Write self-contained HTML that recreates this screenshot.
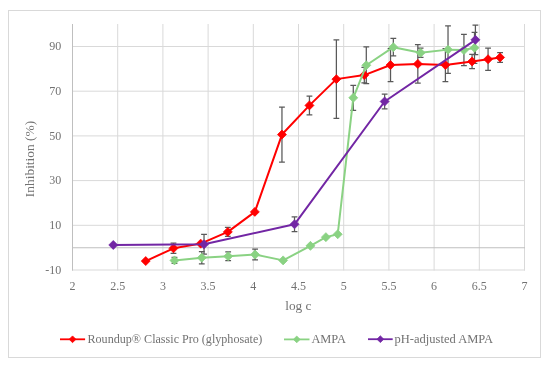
<!DOCTYPE html>
<html><head><meta charset="utf-8"><style>
html,body{margin:0;padding:0;background:#fff;}
body{width:550px;height:367px;overflow:hidden;}
svg{display:block;will-change:transform;}
.t{font-family:"Liberation Serif",serif;font-size:12px;fill:#727272;}
</style></head><body>
<svg width="550" height="367" viewBox="0 0 550 367">
<rect x="8.5" y="10.5" width="532" height="347" fill="#fff" stroke="#d9d9d9" stroke-width="1"/>
<line x1="72" x2="525" y1="46.50" y2="46.50" stroke="#d9d9d9" stroke-width="1"/>
<line x1="72" x2="525" y1="91.20" y2="91.20" stroke="#d9d9d9" stroke-width="1"/>
<line x1="72" x2="525" y1="135.90" y2="135.90" stroke="#d9d9d9" stroke-width="1"/>
<line x1="72" x2="525" y1="180.60" y2="180.60" stroke="#d9d9d9" stroke-width="1"/>
<line x1="72" x2="525" y1="225.30" y2="225.30" stroke="#d9d9d9" stroke-width="1"/>
<line x1="72" x2="525" y1="270.00" y2="270.00" stroke="#d9d9d9" stroke-width="1"/>
<line x1="72.50" x2="72.50" y1="24" y2="270.50" stroke="#d9d9d9" stroke-width="1"/>
<line x1="117.70" x2="117.70" y1="24" y2="270.50" stroke="#d9d9d9" stroke-width="1"/>
<line x1="162.90" x2="162.90" y1="24" y2="270.50" stroke="#d9d9d9" stroke-width="1"/>
<line x1="208.10" x2="208.10" y1="24" y2="270.50" stroke="#d9d9d9" stroke-width="1"/>
<line x1="253.30" x2="253.30" y1="24" y2="270.50" stroke="#d9d9d9" stroke-width="1"/>
<line x1="298.50" x2="298.50" y1="24" y2="270.50" stroke="#d9d9d9" stroke-width="1"/>
<line x1="343.70" x2="343.70" y1="24" y2="270.50" stroke="#d9d9d9" stroke-width="1"/>
<line x1="388.90" x2="388.90" y1="24" y2="270.50" stroke="#d9d9d9" stroke-width="1"/>
<line x1="434.10" x2="434.10" y1="24" y2="270.50" stroke="#d9d9d9" stroke-width="1"/>
<line x1="479.30" x2="479.30" y1="24" y2="270.50" stroke="#d9d9d9" stroke-width="1"/>
<line x1="524.50" x2="524.50" y1="24" y2="270.50" stroke="#d9d9d9" stroke-width="1"/>
<line x1="72" x2="525" y1="247.75" y2="247.75" stroke="#bfbfbf" stroke-width="1.2"/>
<line x1="72.50" x2="72.50" y1="24" y2="270.50" stroke="#bfbfbf" stroke-width="1"/>
<path d="M173.48 243.18V253.46M170.58 243.18H176.38M170.58 253.46H176.38" stroke="#595959" stroke-width="1.25" fill="none"/>
<path d="M227.81 227.42V236.36M224.91 227.42H230.71M224.91 236.36H230.71" stroke="#595959" stroke-width="1.25" fill="none"/>
<path d="M281.96 107.07V162.05M279.06 107.07H284.86M279.06 162.05H284.86" stroke="#595959" stroke-width="1.25" fill="none"/>
<path d="M309.44 96.01V114.78M306.54 96.01H312.34M306.54 114.78H312.34" stroke="#595959" stroke-width="1.25" fill="none"/>
<path d="M336.38 39.80V118.47M333.48 39.80H339.28M333.48 118.47H339.28" stroke="#595959" stroke-width="1.25" fill="none"/>
<path d="M364.31 67.29V82.93M361.41 67.29H367.21M361.41 82.93H367.21" stroke="#595959" stroke-width="1.25" fill="none"/>
<path d="M390.53 48.51V81.59M387.63 48.51H393.43M387.63 81.59H393.43" stroke="#595959" stroke-width="1.25" fill="none"/>
<path d="M417.83 44.71V83.15M414.93 44.71H420.73M414.93 83.15H420.73" stroke="#595959" stroke-width="1.25" fill="none"/>
<path d="M445.40 48.51V81.59M442.50 48.51H448.30M442.50 81.59H448.30" stroke="#595959" stroke-width="1.25" fill="none"/>
<path d="M472.07 54.32V68.63M469.17 54.32H474.97M469.17 68.63H474.97" stroke="#595959" stroke-width="1.25" fill="none"/>
<path d="M488.07 48.06V70.41M485.17 48.06H490.97M485.17 70.41H490.97" stroke="#595959" stroke-width="1.25" fill="none"/>
<path d="M500.09 52.53V62.37M497.19 52.53H502.99M497.19 62.37H502.99" stroke="#595959" stroke-width="1.25" fill="none"/>
<path d="M174.47 257.48V263.29M171.57 257.48H177.37M171.57 263.29H177.37" stroke="#595959" stroke-width="1.25" fill="none"/>
<path d="M201.77 251.56V263.85M198.87 251.56H204.67M198.87 263.85H204.67" stroke="#595959" stroke-width="1.25" fill="none"/>
<path d="M228.17 251.90V260.61M225.27 251.90H231.07M225.27 260.61H231.07" stroke="#595959" stroke-width="1.25" fill="none"/>
<path d="M255.11 249.21V259.94M252.21 249.21H258.01M252.21 259.94H258.01" stroke="#595959" stroke-width="1.25" fill="none"/>
<path d="M353.28 85.28V110.31M350.38 85.28H356.18M350.38 110.31H356.18" stroke="#595959" stroke-width="1.25" fill="none"/>
<path d="M366.30 46.95V83.60M363.40 46.95H369.20M363.40 83.60H369.20" stroke="#595959" stroke-width="1.25" fill="none"/>
<path d="M393.33 38.45V55.89M390.43 38.45H396.23M390.43 55.89H396.23" stroke="#595959" stroke-width="1.25" fill="none"/>
<path d="M420.63 48.06V57.45M417.73 48.06H423.53M417.73 57.45H423.53" stroke="#595959" stroke-width="1.25" fill="none"/>
<path d="M448.02 25.94V73.32M445.12 25.94H450.92M445.12 73.32H450.92" stroke="#595959" stroke-width="1.25" fill="none"/>
<path d="M463.93 34.43V65.72M461.03 34.43H466.83M461.03 65.72H466.83" stroke="#595959" stroke-width="1.25" fill="none"/>
<path d="M474.51 32.42V63.26M471.61 32.42H477.41M471.61 63.26H477.41" stroke="#595959" stroke-width="1.25" fill="none"/>
<path d="M204.03 234.46V254.13M201.13 234.46H206.93M201.13 254.13H206.93" stroke="#595959" stroke-width="1.25" fill="none"/>
<path d="M294.52 216.92V231.67M291.62 216.92H297.42M291.62 231.67H297.42" stroke="#595959" stroke-width="1.25" fill="none"/>
<path d="M384.65 94.11V108.86M381.75 94.11H387.55M381.75 108.86H387.55" stroke="#595959" stroke-width="1.25" fill="none"/>
<path d="M475.41 25.04V54.55M472.51 25.04H478.31M472.51 54.55H478.31" stroke="#595959" stroke-width="1.25" fill="none"/>
<polyline points="145.72,261.06 173.48,248.32 200.69,243.63 227.81,231.89 254.84,211.89 281.96,134.56 309.44,105.39 336.38,79.13 364.31,75.11 390.53,65.05 417.83,63.93 445.40,65.05 472.07,61.47 488.07,59.24 500.09,57.45" fill="none" stroke="#ff0000" stroke-width="2.0" stroke-linejoin="round"/>
<path d="M145.72 256.56L150.22 261.06L145.72 265.56L141.22 261.06Z" fill="#ff0000" stroke="#ff0000" stroke-width="0.75"/>
<path d="M173.48 243.82L177.98 248.32L173.48 252.82L168.98 248.32Z" fill="#ff0000" stroke="#ff0000" stroke-width="0.75"/>
<path d="M200.69 239.13L205.19 243.63L200.69 248.13L196.19 243.63Z" fill="#ff0000" stroke="#ff0000" stroke-width="0.75"/>
<path d="M227.81 227.39L232.31 231.89L227.81 236.39L223.31 231.89Z" fill="#ff0000" stroke="#ff0000" stroke-width="0.75"/>
<path d="M254.84 207.39L259.34 211.89L254.84 216.39L250.34 211.89Z" fill="#ff0000" stroke="#ff0000" stroke-width="0.75"/>
<path d="M281.96 130.06L286.46 134.56L281.96 139.06L277.46 134.56Z" fill="#ff0000" stroke="#ff0000" stroke-width="0.75"/>
<path d="M309.44 100.89L313.94 105.39L309.44 109.89L304.94 105.39Z" fill="#ff0000" stroke="#ff0000" stroke-width="0.75"/>
<path d="M336.38 74.63L340.88 79.13L336.38 83.63L331.88 79.13Z" fill="#ff0000" stroke="#ff0000" stroke-width="0.75"/>
<path d="M364.31 70.61L368.81 75.11L364.31 79.61L359.81 75.11Z" fill="#ff0000" stroke="#ff0000" stroke-width="0.75"/>
<path d="M390.53 60.55L395.03 65.05L390.53 69.55L386.03 65.05Z" fill="#ff0000" stroke="#ff0000" stroke-width="0.75"/>
<path d="M417.83 59.43L422.33 63.93L417.83 68.43L413.33 63.93Z" fill="#ff0000" stroke="#ff0000" stroke-width="0.75"/>
<path d="M445.40 60.55L449.90 65.05L445.40 69.55L440.90 65.05Z" fill="#ff0000" stroke="#ff0000" stroke-width="0.75"/>
<path d="M472.07 56.97L476.57 61.47L472.07 65.97L467.57 61.47Z" fill="#ff0000" stroke="#ff0000" stroke-width="0.75"/>
<path d="M488.07 54.74L492.57 59.24L488.07 63.74L483.57 59.24Z" fill="#ff0000" stroke="#ff0000" stroke-width="0.75"/>
<path d="M500.09 52.95L504.59 57.45L500.09 61.95L495.59 57.45Z" fill="#ff0000" stroke="#ff0000" stroke-width="0.75"/>
<polyline points="174.47,260.39 201.77,257.71 228.17,256.25 255.11,254.58 283.13,260.39 310.43,245.86 325.89,237.15 337.73,234.24 353.28,97.79 366.30,65.27 393.33,47.17 420.63,52.76 448.02,49.63 463.93,50.08 474.51,47.84" fill="none" stroke="#8ad283" stroke-width="2.0" stroke-linejoin="round"/>
<path d="M174.47 255.89L178.97 260.39L174.47 264.89L169.97 260.39Z" fill="#8ad283" stroke="#8ad283" stroke-width="0.75"/>
<path d="M201.77 253.21L206.27 257.71L201.77 262.21L197.27 257.71Z" fill="#8ad283" stroke="#8ad283" stroke-width="0.75"/>
<path d="M228.17 251.75L232.67 256.25L228.17 260.75L223.67 256.25Z" fill="#8ad283" stroke="#8ad283" stroke-width="0.75"/>
<path d="M255.11 250.08L259.61 254.58L255.11 259.08L250.61 254.58Z" fill="#8ad283" stroke="#8ad283" stroke-width="0.75"/>
<path d="M283.13 255.89L287.63 260.39L283.13 264.89L278.63 260.39Z" fill="#8ad283" stroke="#8ad283" stroke-width="0.75"/>
<path d="M310.43 241.36L314.93 245.86L310.43 250.36L305.93 245.86Z" fill="#8ad283" stroke="#8ad283" stroke-width="0.75"/>
<path d="M325.89 232.65L330.39 237.15L325.89 241.65L321.39 237.15Z" fill="#8ad283" stroke="#8ad283" stroke-width="0.75"/>
<path d="M337.73 229.74L342.23 234.24L337.73 238.74L333.23 234.24Z" fill="#8ad283" stroke="#8ad283" stroke-width="0.75"/>
<path d="M353.28 93.29L357.78 97.79L353.28 102.29L348.78 97.79Z" fill="#8ad283" stroke="#8ad283" stroke-width="0.75"/>
<path d="M366.30 60.77L370.80 65.27L366.30 69.77L361.80 65.27Z" fill="#8ad283" stroke="#8ad283" stroke-width="0.75"/>
<path d="M393.33 42.67L397.83 47.17L393.33 51.67L388.83 47.17Z" fill="#8ad283" stroke="#8ad283" stroke-width="0.75"/>
<path d="M420.63 48.26L425.13 52.76L420.63 57.26L416.13 52.76Z" fill="#8ad283" stroke="#8ad283" stroke-width="0.75"/>
<path d="M448.02 45.13L452.52 49.63L448.02 54.13L443.52 49.63Z" fill="#8ad283" stroke="#8ad283" stroke-width="0.75"/>
<path d="M463.93 45.58L468.43 50.08L463.93 54.58L459.43 50.08Z" fill="#8ad283" stroke="#8ad283" stroke-width="0.75"/>
<path d="M474.51 43.34L479.01 47.84L474.51 52.34L470.01 47.84Z" fill="#8ad283" stroke="#8ad283" stroke-width="0.75"/>
<polyline points="113.27,244.97 204.03,244.30 294.52,224.29 384.65,101.48 475.41,39.80" fill="none" stroke="#7226a4" stroke-width="2.0" stroke-linejoin="round"/>
<path d="M113.27 240.47L117.77 244.97L113.27 249.47L108.77 244.97Z" fill="#7226a4" stroke="#7226a4" stroke-width="0.75"/>
<path d="M204.03 239.80L208.53 244.30L204.03 248.80L199.53 244.30Z" fill="#7226a4" stroke="#7226a4" stroke-width="0.75"/>
<path d="M294.52 219.79L299.02 224.29L294.52 228.79L290.02 224.29Z" fill="#7226a4" stroke="#7226a4" stroke-width="0.75"/>
<path d="M384.65 96.98L389.15 101.48L384.65 105.98L380.15 101.48Z" fill="#7226a4" stroke="#7226a4" stroke-width="0.75"/>
<path d="M475.41 35.30L479.91 39.80L475.41 44.30L470.91 39.80Z" fill="#7226a4" stroke="#7226a4" stroke-width="0.75"/>
<text x="61.3" y="50.10" text-anchor="end" class="t">90</text>
<text x="61.3" y="94.80" text-anchor="end" class="t">70</text>
<text x="61.3" y="139.50" text-anchor="end" class="t">50</text>
<text x="61.3" y="184.20" text-anchor="end" class="t">30</text>
<text x="61.3" y="228.90" text-anchor="end" class="t">10</text>
<text x="61.3" y="273.60" text-anchor="end" class="t">-10</text>
<text x="72.50" y="290" text-anchor="middle" class="t">2</text>
<text x="117.70" y="290" text-anchor="middle" class="t">2.5</text>
<text x="162.90" y="290" text-anchor="middle" class="t">3</text>
<text x="208.10" y="290" text-anchor="middle" class="t">3.5</text>
<text x="253.30" y="290" text-anchor="middle" class="t">4</text>
<text x="298.50" y="290" text-anchor="middle" class="t">4.5</text>
<text x="343.70" y="290" text-anchor="middle" class="t">5</text>
<text x="388.90" y="290" text-anchor="middle" class="t">5.5</text>
<text x="434.10" y="290" text-anchor="middle" class="t">6</text>
<text x="479.30" y="290" text-anchor="middle" class="t">6.5</text>
<text x="524.50" y="290" text-anchor="middle" class="t">7</text>
<text x="298.4" y="309.6" text-anchor="middle" class="t" style="font-size:13.3px">log c</text>
<text transform="translate(33.5,159) rotate(-90)" text-anchor="middle" class="t" style="font-size:13.4px">Inhibition (%)</text>
<line x1="60" x2="85.1" y1="339.3" y2="339.3" stroke="#ff0000" stroke-width="1.8"/>
<path d="M72.55 335.90000000000003L75.95 339.3L72.55 342.7L69.14999999999999 339.3Z" fill="#ff0000" stroke="#ff0000" stroke-width="0.75"/>
<text x="87.5" y="342.6" class="t" style="font-size:12.1px">Roundup® Classic Pro (glyphosate)</text>
<line x1="284" x2="309.5" y1="339.4" y2="339.4" stroke="#8ad283" stroke-width="1.8"/>
<path d="M296.75 336.0L300.15 339.4L296.75 342.79999999999995L293.35 339.4Z" fill="#8ad283" stroke="#8ad283" stroke-width="0.75"/>
<text x="311.4" y="342.6" class="t" style="font-size:12.4px">AMPA</text>
<line x1="368" x2="392.7" y1="339.2" y2="339.2" stroke="#7226a4" stroke-width="1.8"/>
<path d="M380.35 335.8L383.75 339.2L380.35 342.59999999999997L376.95000000000005 339.2Z" fill="#7226a4" stroke="#7226a4" stroke-width="0.75"/>
<text x="394.6" y="342.6" class="t" style="font-size:12.5px">pH-adjusted AMPA</text>
</svg>
</body></html>
